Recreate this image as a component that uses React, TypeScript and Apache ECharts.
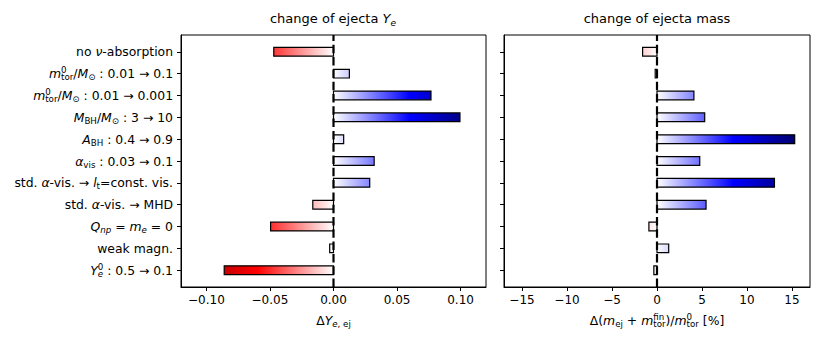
import React, { useEffect, useRef } from 'react';
import * as echarts from 'echarts';

// ---- data ----
const categoryLabels = [
  '{r|no }{i|ν}{r|-absorption}',
  '{i|m}{supz|0}{sub|tor}{r|/}{i|M}{sub|⊙}{r| : 0.01 → 0.1}',
  '{i|m}{supz|0}{sub|tor}{r|/}{i|M}{sub|⊙}{r| : 0.01 → 0.001}',
  '{i|M}{sub|BH}{r|/}{i|M}{sub|⊙}{r| : 3 → 10}',
  '{i|A}{sub|BH}{r| : 0.4 → 0.9}',
  '{i|α}{sub|vis}{r| : 0.03 → 0.1}',
  '{r|std. }{i|α}{r|-vis. → }{i|l}{sub|t}{r|=const. vis.}',
  '{r|std. }{i|α}{r|-vis. → MHD}',
  '{i|Q}{subi|np}{r| = }{i|m}{subi|e}{r| = 0}',
  '{r|weak magn.}',
  '{i|Y}{subzi|e}{sup|0}{r| : 0.5 → 0.1}',
];
const yeChange = [-0.047, 0.0125, 0.0767, 0.0995, 0.008, 0.032, 0.0285, -0.0163, -0.0495, -0.003, -0.086];
const massChange = [-1.6, -0.2, 4.1, 5.3, 15.3, 4.75, 13.05, 5.45, -0.9, 1.3, -0.35];
const yeTicks = [-0.1, -0.05, 0, 0.05, 0.1];
const massTicks = [-15, -10, -5, 0, 5, 10, 15];
const yeRange = [-0.12, 0.12];
const massRange = [-17, 17];
const titles = ['{t|change of ejecta }{ti|Y}{tsubi|e}', '{t|change of ejecta mass}'];
const xNames = [
  '{r|Δ}{i|Y}{subi|e}{sub|, ej}',
  '{r|Δ(}{i|m}{sub|ej}{r| + }{i|m}{supz|fin}{sub|tor}{r|)/}{i|m}{supz|0}{sub|tor}{r| [%]}',
];

// ---- styling ----
const FF = 'DejaVu Sans';
const FS = 12;
const LFS = 12.4;
const SFS = 8.7;
const LH = 16;
const BAR_H = 0.4;
const Y_MIN = -0.77;
const Y_MAX = 10.77;

const base = { fontFamily: FF, color: '#000', align: 'left', fontWeight: 'normal' };
const rich: any = {
  r: { ...base, fontSize: LFS, lineHeight: LH },
  i: { ...base, fontSize: LFS, lineHeight: LH, fontStyle: 'italic' },
  sup: { ...base, fontSize: SFS, lineHeight: 9, verticalAlign: 'top' },
  supz: { ...base, fontSize: SFS, lineHeight: 9, verticalAlign: 'top', width: 0 },
  sub: { ...base, fontSize: SFS, lineHeight: 9, verticalAlign: 'bottom' },
  subi: { ...base, fontSize: SFS, lineHeight: 9, verticalAlign: 'bottom', fontStyle: 'italic' },
  subzi: { ...base, fontSize: SFS, lineHeight: 9, verticalAlign: 'bottom', fontStyle: 'italic', width: 0 },
};
const titleRich: any = {
  t: { ...base, fontSize: 13, lineHeight: 18 },
  ti: { ...base, fontSize: 13, lineHeight: 18, fontStyle: 'italic' },
  tsubi: { ...base, fontSize: 9, lineHeight: 10, verticalAlign: 'bottom', fontStyle: 'italic' },
};

function lerp(a: number[], b: number[], f: number) {
  return a.map((x, k) => x + (b[k] - x) * f);
}
// reversed "seismic" colormap: positive -> blue, negative -> red
function cmap(t: number) {
  const s = Math.min(1, Math.abs(t));
  let c: number[];
  if (t >= 0) c = s <= 0.5 ? lerp([1, 1, 1], [0, 0, 1], s / 0.5) : lerp([0, 0, 1], [0, 0, 0.3], (s - 0.5) / 0.5);
  else c = s <= 0.5 ? lerp([1, 1, 1], [1, 0, 0], s / 0.5) : lerp([1, 0, 0], [0.5, 0, 0], (s - 0.5) / 0.5);
  return `rgb(${Math.round(c[0] * 255)},${Math.round(c[1] * 255)},${Math.round(c[2] * 255)})`;
}
function barGradient(v: number, vmax: number) {
  const left = Math.min(v, 0);
  const right = Math.max(v, 0);
  const fracs = [0, 1];
  const half = v < 0 ? -vmax / 2 : vmax / 2;
  if (Math.abs(v) > vmax / 2) fracs.push((half - left) / (right - left));
  fracs.sort((a, b) => a - b);
  const stops = fracs.map((f) => ({ offset: f, color: cmap((left + (right - left) * f) / vmax) }));
  return new echarts.graphic.LinearGradient(0, 0, 1, 0, stops);
}

function minusFmt(v: number, d: number) {
  const s = Math.abs(v).toFixed(d);
  return v < 0 ? '\u2212' + s : s;
}

function barSeries(values: number[], axisIdx: number, vmax: number) {
  return {
    type: 'custom',
    xAxisIndex: axisIdx,
    yAxisIndex: axisIdx,
    data: values.map((v, i) => [v, i]),
    renderItem: (_p: any, api: any) => {
      const v = api.value(0);
      const idx = api.value(1);
      const p0 = api.coord([0, idx]);
      const p1 = api.coord([v, idx]);
      const h = api.size([0, BAR_H])[1];
      return {
        type: 'rect',
        shape: { x: Math.min(p0[0], p1[0]), y: p0[1] - h / 2, width: Math.abs(p1[0] - p0[0]), height: h },
        style: { fill: barGradient(v, vmax), stroke: '#000', lineWidth: 1.2 },
      };
    },
  };
}

function zeroLine(axisIdx: number) {
  return {
    type: 'line',
    xAxisIndex: axisIdx,
    yAxisIndex: axisIdx,
    data: [[0, Y_MAX], [0, Y_MIN]],
    symbol: 'none',
    silent: true,
    lineStyle: { color: '#000', width: 2.2, type: [8.5, 3.8] },
  };
}

function xAxis(idx: number, range: number[], ticks: number[], dec: number, name: string) {
  return {
    gridIndex: idx,
    type: 'value',
    min: range[0],
    max: range[1],
    splitLine: { show: false },
    axisLine: { show: true, onZero: false, lineStyle: { color: '#000', width: 1 } },
    axisTick: { show: true, length: 4, customValues: ticks, lineStyle: { color: '#000', width: 1 } },
    axisLabel: {
      customValues: ticks,
      formatter: (v: number) => minusFmt(v, dec),
      fontFamily: FF,
      fontSize: FS,
      color: '#000',
      margin: 7,
    },
    name,
    nameLocation: 'middle',
    nameGap: 25,
    nameTextStyle: { rich, fontFamily: FF, fontSize: FS, color: '#000' },
  };
}

function yAxis(idx: number, showLabels: boolean) {
  const idxs = categoryLabels.map((_, i) => i);
  return {
    gridIndex: idx,
    type: 'value',
    inverse: true,
    min: Y_MIN,
    max: Y_MAX,
    splitLine: { show: false },
    axisLine: { show: true, onZero: false, lineStyle: { color: '#000', width: 1 } },
    axisTick: { show: true, length: 4, customValues: idxs, lineStyle: { color: '#000', width: 1 } },
    axisLabel: {
      show: showLabels,
      customValues: idxs,
      formatter: (v: number) => categoryLabels[Math.round(v)],
      rich,
      fontFamily: FF,
      fontSize: FS,
      color: '#000',
      margin: 8,
    },
  };
}

export default function App() {
  const ref = useRef<HTMLDivElement>(null);
  useEffect(() => {
    if (!ref.current) return;
    const chart = echarts.init(ref.current, undefined, { renderer: 'svg' });
    const gridStyle = { show: true, borderColor: '#000', borderWidth: 1, backgroundColor: 'transparent' };
    chart.setOption({
      animation: false,
      backgroundColor: '#fff',
      title: [
        { text: titles[0], left: 333, top: 9, textAlign: 'center', padding: 0, textStyle: { rich: titleRich, fontWeight: 'normal' } },
        { text: titles[1], left: 657, top: 9, textAlign: 'center', padding: 0, textStyle: { rich: titleRich, fontWeight: 'normal' } },
      ],
      grid: [
        { left: 181, top: 35, width: 305, height: 252, ...gridStyle },
        { left: 504, top: 35, width: 306, height: 252, ...gridStyle },
      ],
      xAxis: [xAxis(0, yeRange, yeTicks, 2, xNames[0]), xAxis(1, massRange, massTicks, 0, xNames[1])],
      yAxis: [yAxis(0, true), yAxis(1, false)],
      series: [barSeries(yeChange, 0, 0.12), zeroLine(0), barSeries(massChange, 1, 17), zeroLine(1)],
    });
    return () => chart.dispose();
  }, []);
  return <div ref={ref} style={{ width: 823, height: 348, position: 'absolute', left: 0, top: 0 }} />;
}
